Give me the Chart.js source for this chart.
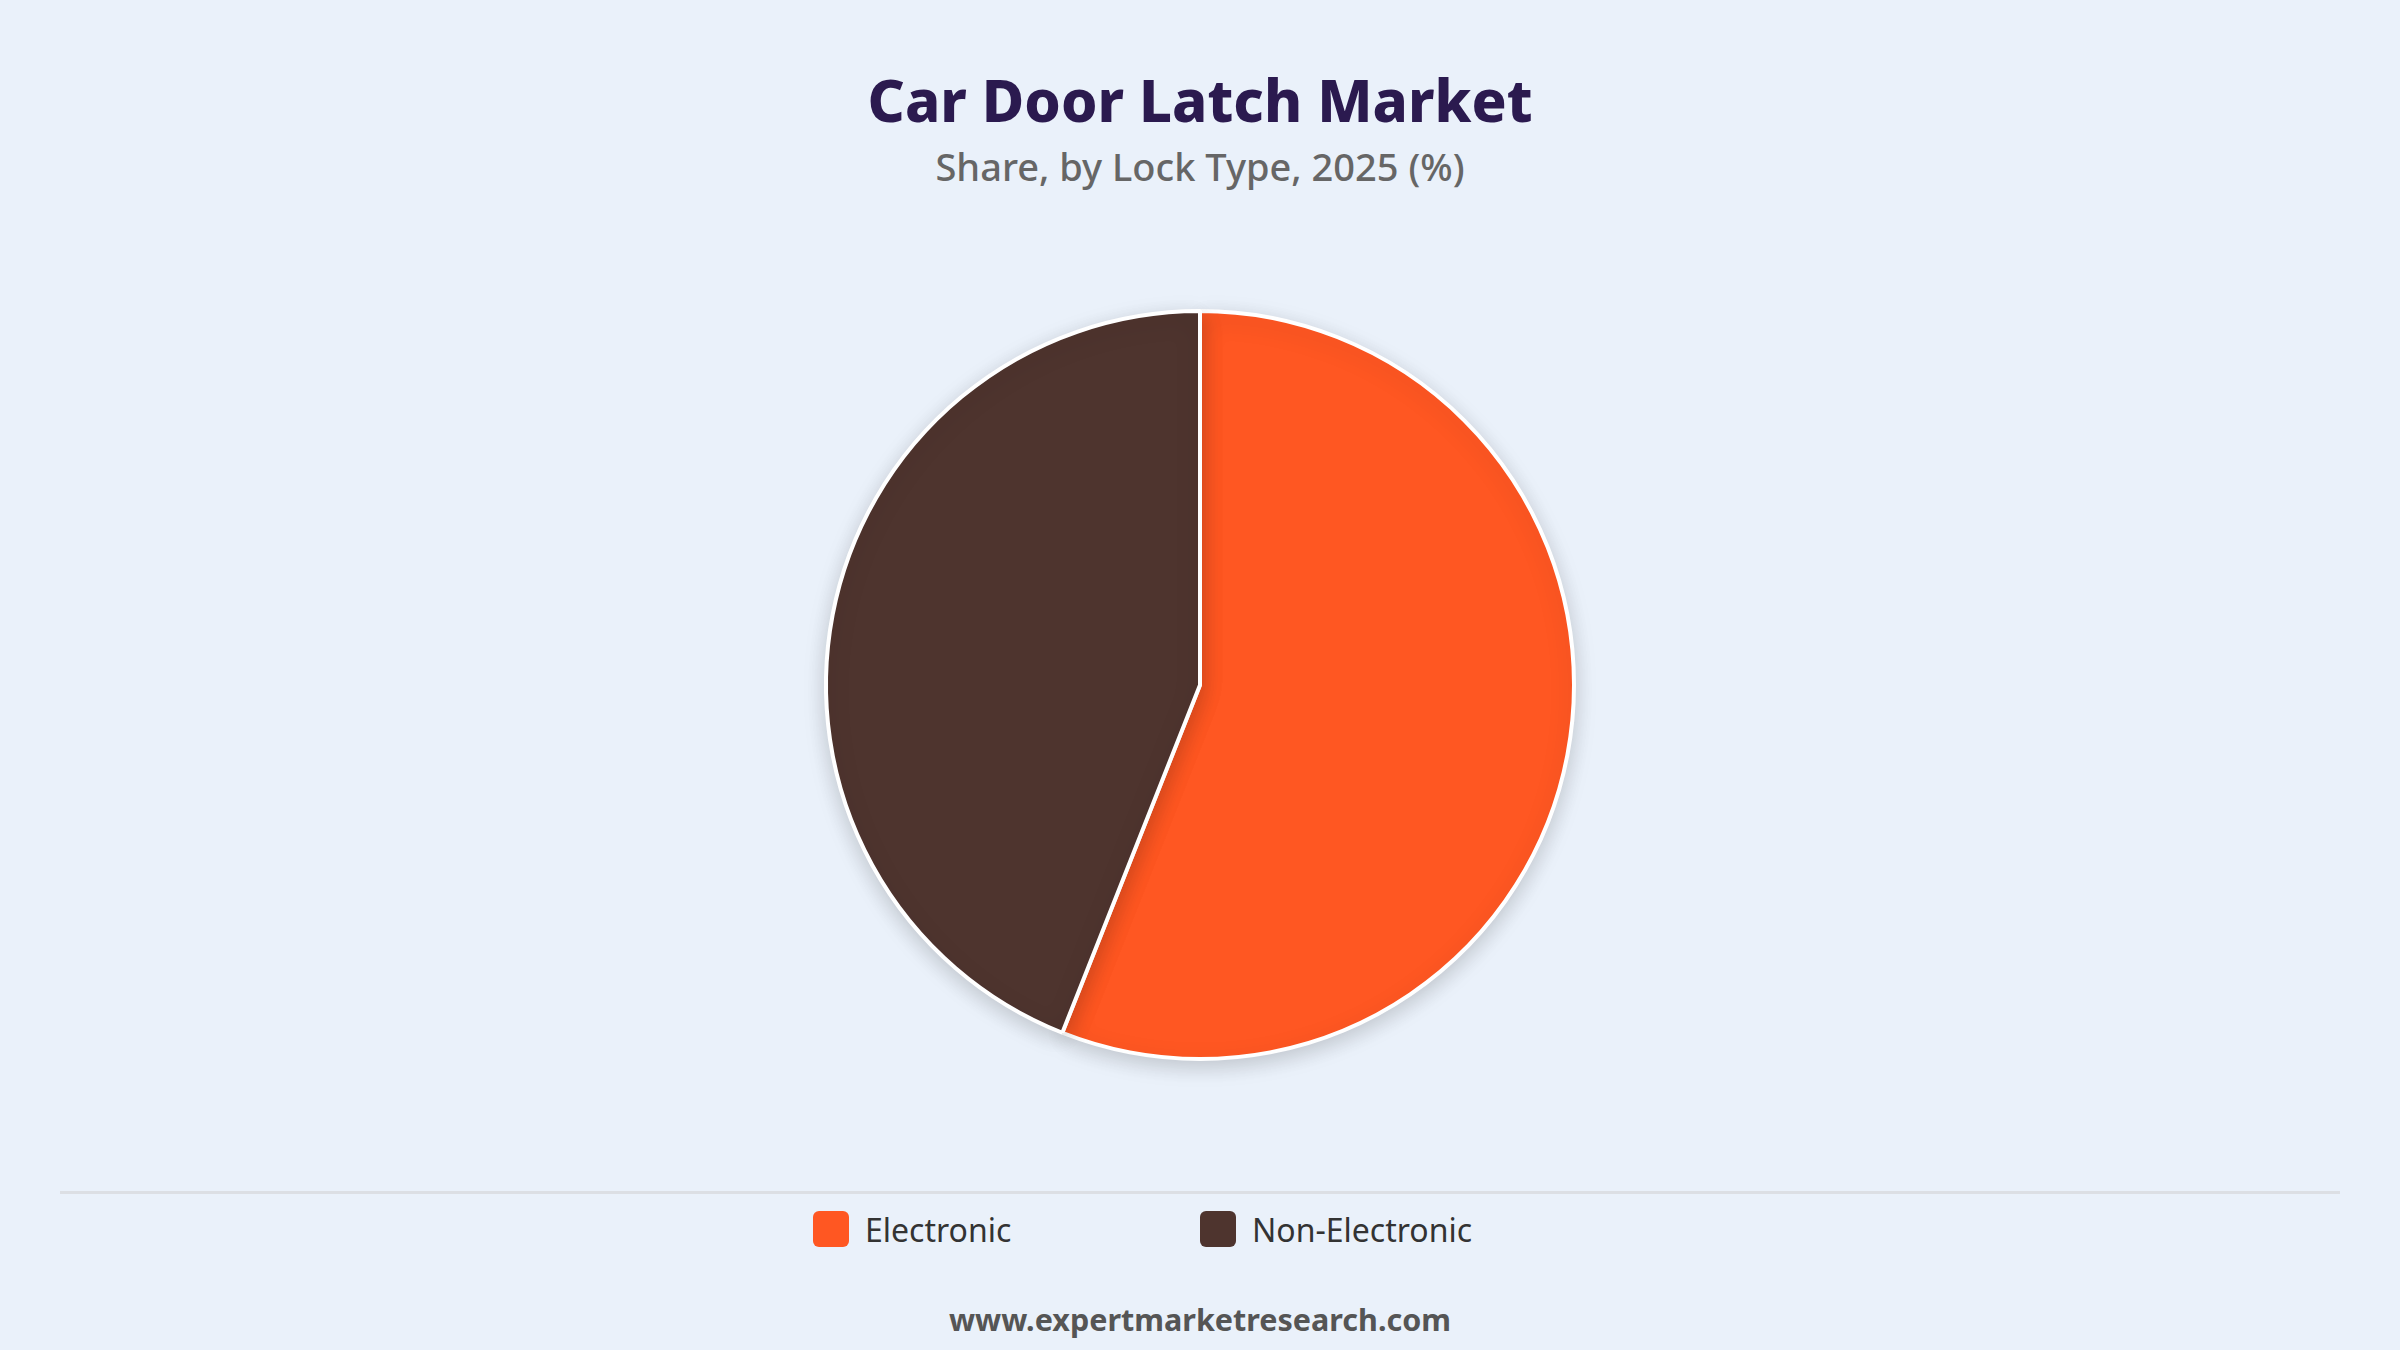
<!DOCTYPE html>
<html>
<head>
<meta charset="utf-8">
<script src="https://cdn.jsdelivr.net/npm/chart.js@4.4.1/dist/chart.umd.min.js"></script>
<style>
  html, body { margin: 0; padding: 0; }
  body {
    width: 2400px; height: 1350px; overflow: hidden; position: relative;
    background: #eaf1fa; font-family: "Noto Sans", "Open Sans", sans-serif;
  }
  .title { position: absolute; left: 0; width: 2400px; text-align: center; top: 62px;
    font-size: 58px; font-weight: 800; color: #2b1a4f; line-height: 76px; }
  .subtitle { position: absolute; left: 0; width: 2400px; text-align: center; top: 141px;
    font-size: 38px; font-weight: 500; color: #666666; line-height: 50px; }
  #chartBox { position: absolute; left: 0; top: 275px; width: 2400px; height: 820px; }
  .rule { position: absolute; left: 60px; width: 2280px; top: 1191px; height: 3px; background: #dcdfe4; }
  #legend { position: absolute; left: 813px; top: 1211px; height: 36px; display: flex; }
  .item { display: flex; align-items: center; width: 387px; }
  .swatch { width: 36px; height: 36px; border-radius: 6px; margin-right: 16px; }
  .item span { font-size: 32px; color: #333333; }
  .footer { position: absolute; left: 0; width: 2400px; text-align: center; top: 1298px;
    font-size: 30.5px; font-weight: 700; color: #555555; line-height: 42px; }
</style>
</head>
<body>
<div class="title">Car Door Latch Market</div>
<div class="subtitle">Share, by Lock Type, 2025 (%)</div>
<div id="chartBox"><canvas id="pieChart"></canvas></div>
<div class="rule"></div>
<div id="legend"></div>
<div class="footer">www.expertmarketresearch.com</div>

<script>
const lockTypes = ['Electronic', 'Non-Electronic']
const shares = [56, 44]
const sliceColors = ['#ff5722', '#4e342e']

// soft shadow behind the pie
const pieShadow = {
  id: 'pieShadow',
  beforeDatasetsDraw(chart) {
    const ctx = chart.ctx
    ctx.save()
    ctx.shadowColor = 'rgba(0, 0, 0, 0.18)'
    ctx.shadowBlur = 22
    ctx.shadowOffsetX = 0
    ctx.shadowOffsetY = 6
  },
  afterDatasetsDraw(chart) {
    chart.ctx.restore()
  }
}

new Chart(document.getElementById('pieChart'), {
  type: 'pie',
  data: {
    labels: lockTypes,
    datasets: [{
      data: shares,
      backgroundColor: sliceColors,
      borderColor: '#ffffff',
      borderWidth: 4
    }]
  },
  options: {
    responsive: true,
    maintainAspectRatio: false,
    animation: false,
    layout: { padding: 34 },
    plugins: {
      legend: { display: false },
      tooltip: { enabled: false }
    }
  },
  plugins: [pieShadow]
})

// legend below the rule
const legend = document.getElementById('legend')
lockTypes.forEach((name, i) => {
  const item = document.createElement('div')
  item.className = 'item'
  item.innerHTML = `<div class="swatch" style="background:${sliceColors[i]}"></div><span>${name}</span>`
  legend.appendChild(item)
})
</script>
</body>
</html>
